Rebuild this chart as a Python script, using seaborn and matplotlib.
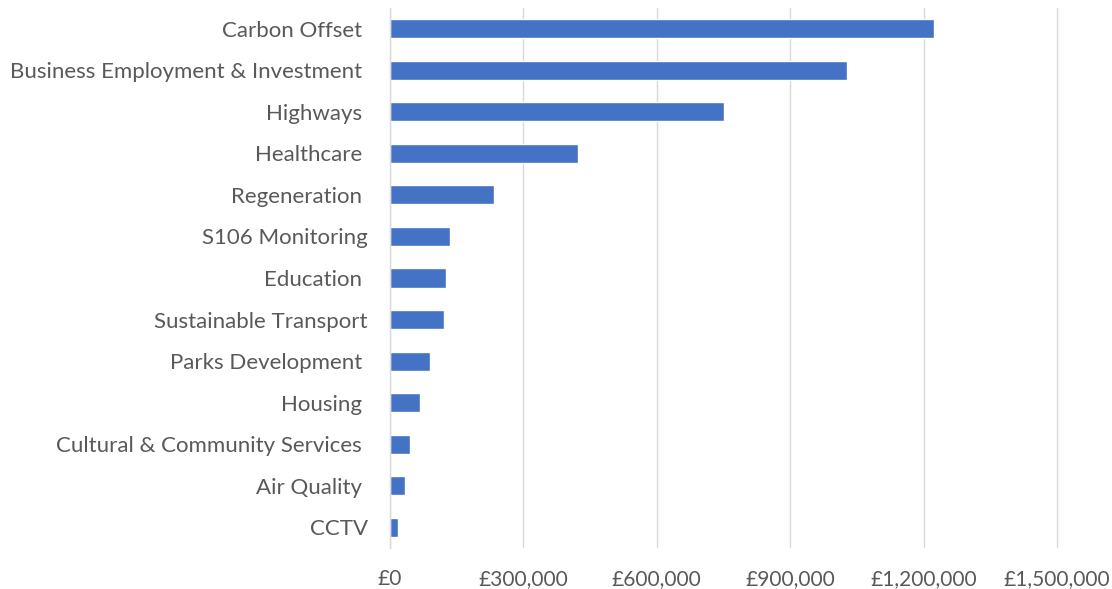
import pandas as pd
import matplotlib
matplotlib.use("Agg")
import matplotlib.pyplot as plt
import seaborn as sns
from matplotlib.ticker import FuncFormatter

# trailing spaces kept where the original labels had them
categories = ["Carbon Offset ", "Business Employment & Investment ", "Highways ",
              "Healthcare ", "Regeneration ", "S106 Monitoring", "Education ",
              "Sustainable Transport", "Parks Development ", "Housing ",
              "Cultural & Community Services ", "Air Quality ", "CCTV"]
amounts = [1223000, 1027000, 752000, 423000, 233000, 136000, 127000,
           121000, 91000, 68000, 45000, 33000, 19000]
x_ticks = [0, 300000, 600000, 900000, 1200000, 1500000]

df = pd.DataFrame({"category": categories, "amount": amounts})

sns.set_style("white")
plt.rcParams["font.family"] = ["Lato", "DejaVu Sans"]

fig = plt.figure(figsize=(11.12, 5.89), dpi=100)
ax = fig.add_axes([0.3507, 0.0696, 0.6046, 0.9168])

sns.barplot(data=df, x="amount", y="category", orient="h", color="#4472C4",
            saturation=1, width=0.46, ax=ax)

ax.set_xlim(0, 1512000)
ax.set_ylim(12.5, -0.5)
ax.set_xticks(x_ticks)
ax.xaxis.set_major_formatter(FuncFormatter(lambda v, p: "£{:,.0f}".format(v)))
ax.grid(axis="x", color="#d9d9d9", linewidth=1.0)
ax.set_axisbelow(True)
for s in ["top", "right", "bottom"]:
    ax.spines[s].set_visible(False)
ax.spines["left"].set_color("#d9d9d9")
ax.spines["left"].set_linewidth(1.0)

ax.tick_params(axis="y", length=0, pad=16, labelsize=16, labelcolor="#595959")
ax.tick_params(axis="x", length=0, pad=15, labelsize=15, labelcolor="#595959")
ax.set_xlabel("")
ax.set_ylabel("")

fig.savefig("out.png", dpi=100)
